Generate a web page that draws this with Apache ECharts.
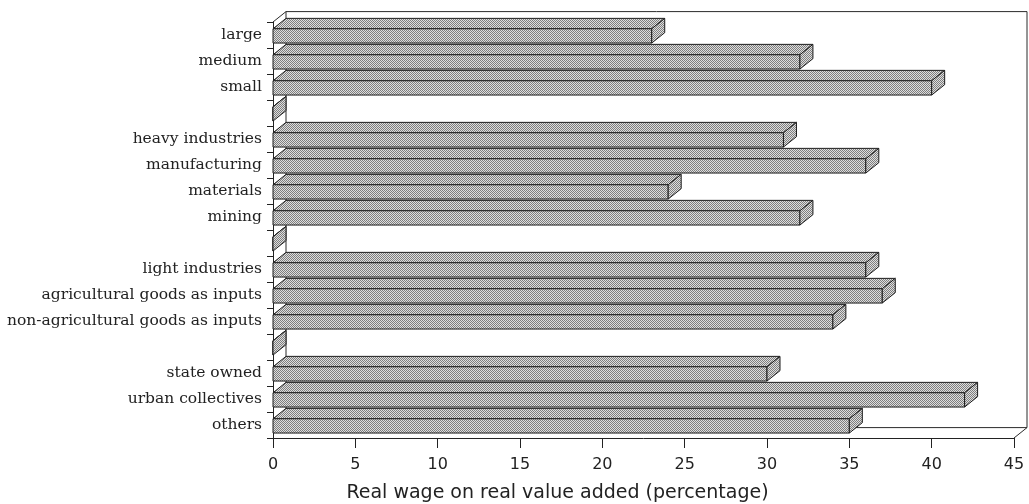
<!DOCTYPE html>
<html>
<head>
<meta charset="utf-8">
<script src="https://cdn.jsdelivr.net/npm/echarts@6/dist/echarts.min.js"></script>
<style>
  html, body { margin: 0; padding: 0; background: #fff; }
  #chart { width: 1029px; height: 504px; }
</style>
</head>
<body>
<div id="chart"></div>
<script>
// rows top to bottom, empty rows are the gaps between groups
const categories = [
  'large', 'medium', 'small', '',
  'heavy industries', 'manufacturing', 'materials', 'mining', '',
  'light industries', 'agricultural goods as inputs', 'non-agricultural goods as inputs', '',
  'state owned', 'urban collectives', 'others'
]
const wageShare = [23, 32, 40, 0, 31, 36, 24, 32, 0, 36, 37, 34, 0, 30, 42, 35]
const xTicks = [0, 5, 10, 15, 20, 25, 30, 35, 40, 45]
const xTitle = 'Real wage on real value added (percentage)'

// stippled grey fill
const dots = document.createElement('canvas')
dots.width = 2
dots.height = 2
const dctx = dots.getContext('2d')
dctx.fillStyle = '#dedede'
dctx.fillRect(0, 0, 2, 2)
dctx.fillStyle = '#7e7e7e'
dctx.fillRect(0, 0, 1, 1)
dctx.fillRect(1, 1, 1, 1)
const stipple = { image: dots, repeat: 'repeat' }

const chart = echarts.init(document.getElementById('chart'))

// depth of the fake 3d, in parts of a category band
const depth = (h) => [h * 0.5, h * 0.4]

const renderBar = (params, api) => {
  const v = api.value(0)
  const idx = api.value(1)
  const base = api.coord([0, idx])
  const end = api.coord([v, idx])
  const h = api.size([0, 1])[1]
  const [dx, dy] = depth(h)
  const top = base[1] - h * 0.24
  const bot = base[1] + h * 0.31
  const x0 = base[0]
  const x1 = end[0]
  const style = { fill: stipple, stroke: '#1c1c1c', lineWidth: 1 }
  return {
    type: 'group',
    children: [
      { type: 'polygon', shape: { points: [[x0, top], [x0 + dx, top - dy], [x1 + dx, top - dy], [x1, top]] }, style },
      { type: 'rect', shape: { x: x0, y: top, width: x1 - x0, height: bot - top }, style },
      { type: 'polygon', shape: { points: [[x1, top], [x1 + dx, top - dy], [x1 + dx, bot - dy], [x1, bot]] }, style }
    ]
  }
}

const renderFrame = (params, api) => {
  const h = api.size([0, 1])[1]
  const [dx, dy] = depth(h)
  const xL = api.coord([xTicks[0], 0])[0]
  const xR = api.coord([xTicks[xTicks.length - 1], 0])[0]
  const yT = api.coord([0, 0])[1] - h / 2
  const yB = api.coord([0, categories.length - 1])[1] + h / 2
  const line = { stroke: '#2a2a2a', lineWidth: 1, fill: null }
  return {
    type: 'group',
    children: [
      { type: 'polyline', shape: { points: [[xL, yT], [xL + dx, yT - dy], [xR + dx, yT - dy], [xR + dx, yB - dy], [xR, yB]] }, style: line },
      { type: 'polyline', shape: { points: [[xL + dx, yT - dy], [xL + dx, yB - dy], [xR + dx, yB - dy]] }, style: line }
    ]
  }
}

const option = {
  animation: false,
  grid: { left: 273, right: 15, top: 22, bottom: 66, outerBoundsMode: 'none' },
  xAxis: {
    type: 'value',
    min: 0,
    max: 45,
    interval: 5,
    name: xTitle,
    nameLocation: 'middle',
    nameGap: 46,
    // title sits left of centre in the original
    nameTextStyle: { fontFamily: 'DejaVu Sans', fontSize: 19, color: '#222', padding: [0, 172, 0, 0] },
    axisLine: { show: true, lineStyle: { color: '#222', width: 1 } },
    axisTick: { show: true, length: 10, lineStyle: { color: '#222' } },
    axisLabel: { fontFamily: 'DejaVu Sans', fontSize: 16, color: '#222', margin: 19 },
    splitLine: { show: false }
  },
  yAxis: {
    type: 'category',
    inverse: true,
    data: categories,
    axisLine: { show: true, lineStyle: { color: '#222', width: 1 } },
    axisTick: { show: true, length: 6, lineStyle: { color: '#222' } },
    axisLabel: { fontFamily: 'DejaVu Serif', fontSize: 15.5, color: '#222', margin: 11 }
  },
  series: [
    {
      type: 'custom',
      renderItem: renderFrame,
      data: [[0, 0]],
      clip: false,
      silent: true,
      z: 1
    },
    {
      type: 'custom',
      renderItem: renderBar,
      encode: { x: 0, y: 1 },
      data: wageShare.map((v, i) => [v, i]),
      clip: false,
      z: 2
    }
  ]
}

chart.setOption(option)
</script>
</body>
</html>
